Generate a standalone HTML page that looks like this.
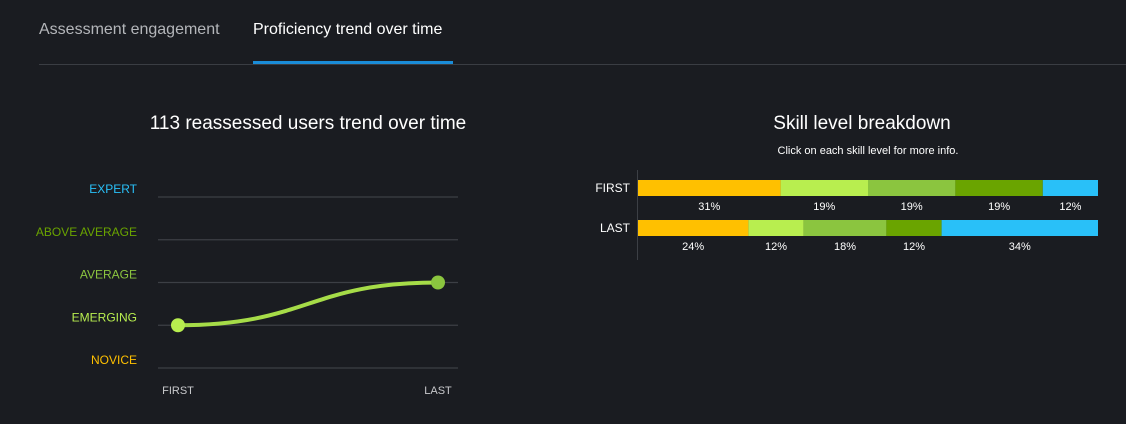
<!DOCTYPE html>
<html><head><meta charset="utf-8"><style>
body{margin:0;width:1126px;height:424px;background:#1a1c21;font-family:"Liberation Sans",sans-serif;overflow:hidden;position:relative;color:#fff}
.tab{position:absolute;top:21px;font-size:16px}
</style></head><body>
<div class="tab" style="left:39px;color:#b4b6ba">Assessment engagement</div>
<div class="tab" style="left:253px;color:#fff">Proficiency trend over time</div>
<div style="position:absolute;left:39px;top:64px;width:1087px;height:1px;background:#3a3d43"></div>
<div style="position:absolute;left:253px;top:61px;width:200px;height:3px;background:#1a8cd8"></div>
<svg width="1126" height="424" style="position:absolute;left:0;top:0">
<text x="308" y="129" text-anchor="middle" font-size="19" fill="#fff">113 reassessed users trend over time</text>
<text x="862" y="129" text-anchor="middle" font-size="19" fill="#fff">Skill level breakdown</text>
<text x="868" y="154" text-anchor="middle" font-size="11" fill="#fff">Click on each skill level for more info.</text>
<g id="line"></g><g id="bars"></g>
</svg>
<script>
const levels=["NOVICE","EMERGING","AVERAGE","ABOVE AVERAGE","EXPERT"];
const levelColors=["#ffc000","#b8ee4f","#8bc53f","#6aa400","#29c0f8"];
const xCats=["FIRST","LAST"];
const trend=[1,2];
const barCats=["FIRST","LAST"];
const firstVals=[31,19,19,19,12];
const lastVals=[24,12,18,12,34];
const NS="http://www.w3.org/2000/svg";
function mk(p,t,a){const e=document.createElementNS(NS,t);for(const k in a)e.setAttribute(k,a[k]);p.appendChild(e);return e;}
const L=document.getElementById('line');
const y=v=>368-v*42.75, x=i=>178+i*260;
levels.forEach((lv,i)=>{
 const g=mk(L,'line',{x1:158,x2:458,y1:y(i),y2:y(i),stroke:'#3c3f45','stroke-width':1.2});
 
 
 const t=mk(L,'text',{x:137,y:y(i)-4,'text-anchor':'end','font-size':12,fill:levelColors[i]});
 t.textContent=lv;
 
 
});
xCats.forEach((c,i)=>{
 const t=mk(L,'text',{x:x(i),y:394,'text-anchor':'middle','font-size':11,fill:'#c8c9cc'});
 t.textContent=c;
 
 
});
const x0=x(0),x1=x(1),y0=y(trend[0]),y1=y(trend[1]),mx=(x0+x1)/2;
const p=mk(L,'path',{d:`M${x0},${y0} C${mx},${y0} ${mx},${y1} ${x1},${y1}`,fill:'none',stroke:'#a6dc48','stroke-width':4});


trend.forEach((v,i)=>{
 const c=mk(L,'circle',{cx:x(i),cy:y(v),r:7,fill:levelColors[v]});
 
 
});
const B=document.getElementById('bars');
const ax=mk(B,'line',{x1:637.5,x2:637.5,y1:170,y2:260,stroke:'#3c3f45'});


const bx=v=>638+v*4.6;
[firstVals,lastVals].forEach((vals,r)=>{
 const top=180+r*40;
 const t=mk(B,'text',{x:630,y:top+12,'text-anchor':'end','font-size':12,fill:'#fff'});
 t.textContent=barCats[r];
 
 
 let acc=0;
 vals.forEach((v,i)=>{
  const rc=mk(B,'rect',{x:bx(acc),y:top,width:bx(acc+v)-bx(acc),height:16,fill:levelColors[i]});
  
  
  const lt=mk(B,'text',{x:(bx(acc)+bx(acc+v))/2,y:top+30,'text-anchor':'middle','font-size':11,fill:'#fff'});
  lt.textContent=v+'%';
  
  
  acc+=v;
 });
});
</script>
</body></html>
